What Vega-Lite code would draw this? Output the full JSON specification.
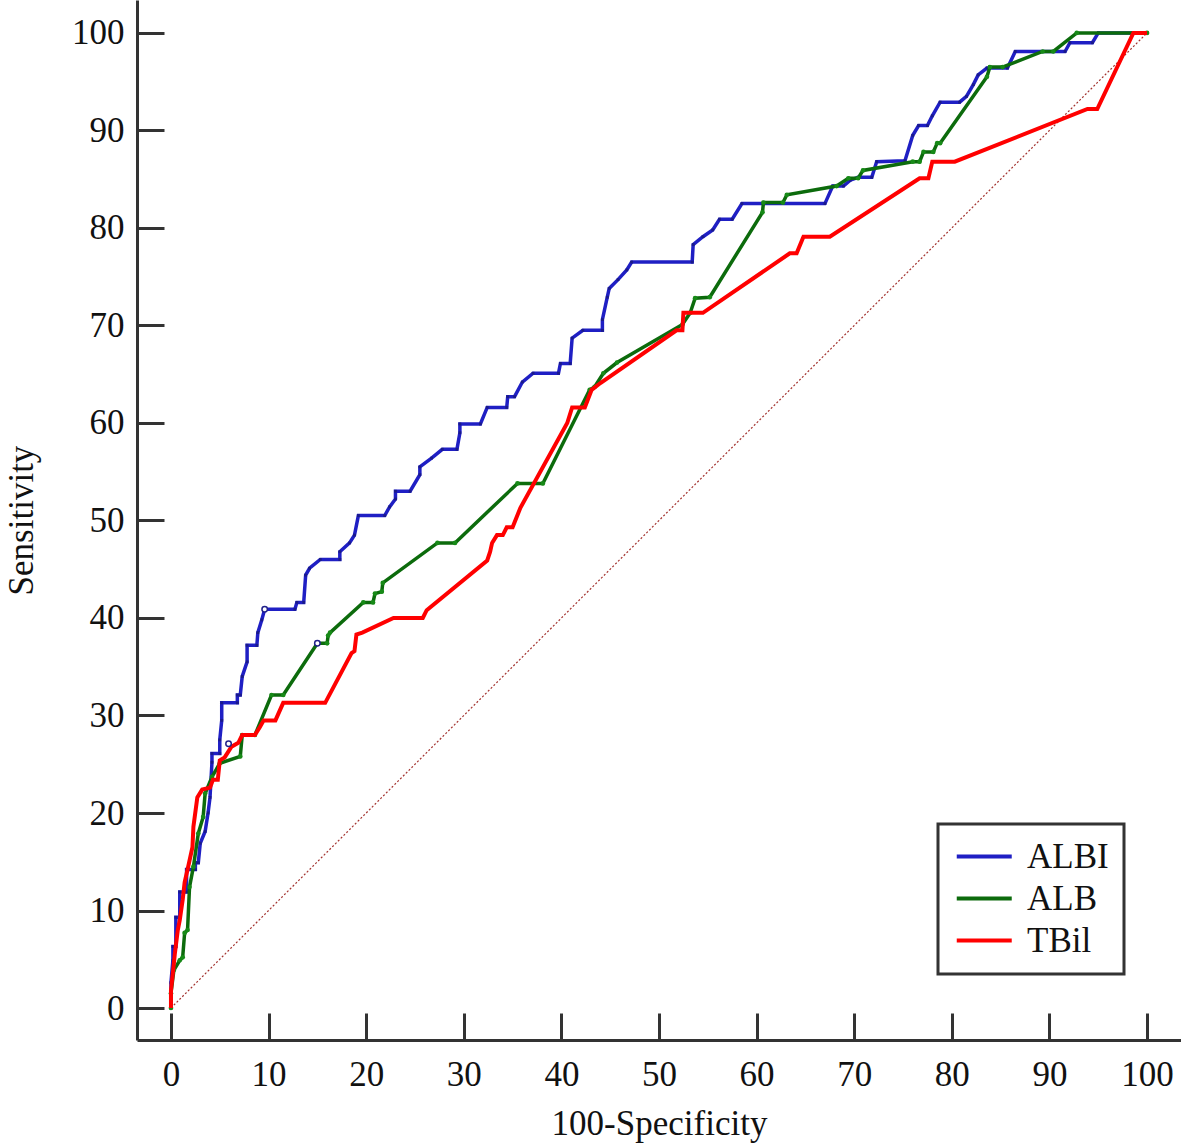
{
  "$schema": "https://vega.github.io/schema/vega-lite/v6.json",
  "width": 1044,
  "height": 1040,
  "autosize": {"type": "none"},
  "padding": {"left": 137, "top": 0, "right": 0, "bottom": 103},
  "background": "white",
  "config": {
    "view": {"stroke": null},
    "axis": {
      "grid": false,
      "domainColor": "#333333",
      "domainWidth": 3,
      "tickColor": "#333333",
      "tickWidth": 3,
      "tickSize": -27,
      "labelFont": "Liberation Serif",
      "labelFontSize": 35,
      "labelColor": "#111111",
      "titleFont": "Liberation Serif",
      "titleFontSize": 35,
      "titleFontWeight": "normal",
      "titleColor": "#111111"
    },
    "legend": {
      "labelFont": "Liberation Serif",
      "labelFontSize": 35,
      "labelColor": "#111111",
      "strokeWidth": 3
    }
  },
  "datasets": {
    "roc": [
      {"series":"ALBI","x":0,"y":0},{"series":"ALBI","x":0,"y":2.6},{"series":"ALBI","x":0.2,"y":4.9},{"series":"ALBI","x":0.2,"y":6.3},{"series":"ALBI","x":0.5,"y":6.3},{"series":"ALBI","x":0.5,"y":9.3},{"series":"ALBI","x":0.9,"y":9.3},{"series":"ALBI","x":0.9,"y":11.9},{"series":"ALBI","x":1.6,"y":11.9},{"series":"ALBI","x":1.6,"y":14.2},{"series":"ALBI","x":2.5,"y":14.2},{"series":"ALBI","x":2.5,"y":14.9},{"series":"ALBI","x":2.8,"y":14.9},{"series":"ALBI","x":3.0,"y":16.9},{"series":"ALBI","x":3.5,"y":18.1},{"series":"ALBI","x":3.8,"y":20.0},{"series":"ALBI","x":4.0,"y":21.6},{"series":"ALBI","x":4.2,"y":25.2},{"series":"ALBI","x":4.2,"y":26.1},{"series":"ALBI","x":5.0,"y":26.1},{"series":"ALBI","x":5.0,"y":27.5},{"series":"ALBI","x":5.2,"y":29.5},{"series":"ALBI","x":5.2,"y":31.3},{"series":"ALBI","x":6.8,"y":31.3},{"series":"ALBI","x":6.8,"y":32.1},{"series":"ALBI","x":7.1,"y":32.1},{"series":"ALBI","x":7.3,"y":34.0},{"series":"ALBI","x":7.8,"y":35.5},{"series":"ALBI","x":7.8,"y":37.2},{"series":"ALBI","x":8.8,"y":37.2},{"series":"ALBI","x":8.9,"y":38.5},{"series":"ALBI","x":9.3,"y":39.8},{"series":"ALBI","x":9.6,"y":40.9},{"series":"ALBI","x":12.7,"y":40.9},{"series":"ALBI","x":12.9,"y":41.6},{"series":"ALBI","x":13.6,"y":41.6},{"series":"ALBI","x":13.8,"y":44.4},{"series":"ALBI","x":14.2,"y":45.1},{"series":"ALBI","x":15.3,"y":46.0},{"series":"ALBI","x":17.3,"y":46.0},{"series":"ALBI","x":17.3,"y":46.8},{"series":"ALBI","x":18.3,"y":47.7},{"series":"ALBI","x":18.8,"y":48.5},{"series":"ALBI","x":19.2,"y":50.5},{"series":"ALBI","x":21.9,"y":50.5},{"series":"ALBI","x":22.4,"y":51.4},{"series":"ALBI","x":23.0,"y":52.2},{"series":"ALBI","x":23.0,"y":53.0},{"series":"ALBI","x":24.5,"y":53.0},{"series":"ALBI","x":25.5,"y":54.7},{"series":"ALBI","x":25.5,"y":55.5},{"series":"ALBI","x":26.7,"y":56.4},{"series":"ALBI","x":27.8,"y":57.3},{"series":"ALBI","x":29.3,"y":57.3},{"series":"ALBI","x":29.6,"y":59.0},{"series":"ALBI","x":29.6,"y":59.9},{"series":"ALBI","x":31.7,"y":59.9},{"series":"ALBI","x":32.4,"y":61.6},{"series":"ALBI","x":34.4,"y":61.6},{"series":"ALBI","x":34.5,"y":62.7},{"series":"ALBI","x":35.2,"y":62.7},{"series":"ALBI","x":36.0,"y":64.2},{"series":"ALBI","x":37.1,"y":65.1},{"series":"ALBI","x":39.7,"y":65.1},{"series":"ALBI","x":39.9,"y":66.1},{"series":"ALBI","x":40.9,"y":66.1},{"series":"ALBI","x":41.1,"y":68.7},{"series":"ALBI","x":42.2,"y":69.5},{"series":"ALBI","x":44.2,"y":69.5},{"series":"ALBI","x":44.2,"y":70.6},{"series":"ALBI","x":44.7,"y":72.9},{"series":"ALBI","x":44.9,"y":73.8},{"series":"ALBI","x":45.8,"y":74.7},{"series":"ALBI","x":46.7,"y":75.7},{"series":"ALBI","x":47.2,"y":76.5},{"series":"ALBI","x":53.4,"y":76.5},{"series":"ALBI","x":53.5,"y":78.3},{"series":"ALBI","x":54.5,"y":79.1},{"series":"ALBI","x":55.5,"y":79.8},{"series":"ALBI","x":56.2,"y":80.9},{"series":"ALBI","x":57.5,"y":80.9},{"series":"ALBI","x":58.5,"y":82.5},{"series":"ALBI","x":67.0,"y":82.5},{"series":"ALBI","x":67.8,"y":84.3},{"series":"ALBI","x":68.9,"y":84.3},{"series":"ALBI","x":69.6,"y":84.9},{"series":"ALBI","x":70.4,"y":85.2},{"series":"ALBI","x":71.8,"y":85.2},{"series":"ALBI","x":72.3,"y":86.8},{"series":"ALBI","x":75.2,"y":86.9},{"series":"ALBI","x":76.0,"y":89.5},{"series":"ALBI","x":76.6,"y":90.5},{"series":"ALBI","x":77.5,"y":90.5},{"series":"ALBI","x":78.0,"y":91.5},{"series":"ALBI","x":78.8,"y":92.9},{"series":"ALBI","x":80.8,"y":92.9},{"series":"ALBI","x":81.5,"y":93.5},{"series":"ALBI","x":82.2,"y":94.7},{"series":"ALBI","x":82.7,"y":95.7},{"series":"ALBI","x":83.6,"y":96.4},{"series":"ALBI","x":85.7,"y":96.4},{"series":"ALBI","x":86.5,"y":98.1},{"series":"ALBI","x":91.6,"y":98.1},{"series":"ALBI","x":92.1,"y":99.0},{"series":"ALBI","x":94.4,"y":99.0},{"series":"ALBI","x":95.0,"y":100},{"series":"ALBI","x":100,"y":100},
      {"series":"ALB","x":0,"y":0},{"series":"ALB","x":0,"y":1.5},{"series":"ALB","x":0.3,"y":3.9},{"series":"ALB","x":0.9,"y":4.9},{"series":"ALB","x":1.2,"y":5.2},{"series":"ALB","x":1.4,"y":7.7},{"series":"ALB","x":1.7,"y":8.0},{"series":"ALB","x":1.9,"y":12.4},{"series":"ALB","x":2.3,"y":14.5},{"series":"ALB","x":2.8,"y":17.9},{"series":"ALB","x":3.3,"y":19.6},{"series":"ALB","x":3.5,"y":22.0},{"series":"ALB","x":4.2,"y":23.7},{"series":"ALB","x":5.0,"y":25.1},{"series":"ALB","x":7.1,"y":25.8},{"series":"ALB","x":7.3,"y":28.0},{"series":"ALB","x":8.6,"y":28.0},{"series":"ALB","x":10.3,"y":32.1},{"series":"ALB","x":11.5,"y":32.1},{"series":"ALB","x":15.0,"y":37.4},{"series":"ALB","x":16.0,"y":37.4},{"series":"ALB","x":16.1,"y":38.2},{"series":"ALB","x":16.3,"y":38.5},{"series":"ALB","x":19.7,"y":41.6},{"series":"ALB","x":20.7,"y":41.6},{"series":"ALB","x":20.9,"y":42.5},{"series":"ALB","x":21.6,"y":42.7},{"series":"ALB","x":21.7,"y":43.6},{"series":"ALB","x":27.3,"y":47.7},{"series":"ALB","x":29.1,"y":47.7},{"series":"ALB","x":35.5,"y":53.8},{"series":"ALB","x":38.1,"y":53.8},{"series":"ALB","x":42.9,"y":63.4},{"series":"ALB","x":43.4,"y":63.7},{"series":"ALB","x":44.3,"y":65.1},{"series":"ALB","x":45.7,"y":66.2},{"series":"ALB","x":52.4,"y":70.1},{"series":"ALB","x":53.2,"y":71.3},{"series":"ALB","x":53.7,"y":72.8},{"series":"ALB","x":55.2,"y":72.9},{"series":"ALB","x":60.6,"y":81.6},{"series":"ALB","x":60.7,"y":82.6},{"series":"ALB","x":62.7,"y":82.6},{"series":"ALB","x":63.1,"y":83.4},{"series":"ALB","x":68.2,"y":84.3},{"series":"ALB","x":69.4,"y":85.1},{"series":"ALB","x":70.4,"y":85.1},{"series":"ALB","x":70.9,"y":85.9},{"series":"ALB","x":76.0,"y":86.8},{"series":"ALB","x":76.7,"y":86.8},{"series":"ALB","x":77.1,"y":87.8},{"series":"ALB","x":78.1,"y":87.8},{"series":"ALB","x":78.5,"y":88.7},{"series":"ALB","x":78.8,"y":88.7},{"series":"ALB","x":83.6,"y":95.5},{"series":"ALB","x":83.9,"y":96.5},{"series":"ALB","x":85.2,"y":96.5},{"series":"ALB","x":89.3,"y":98.1},{"series":"ALB","x":90.4,"y":98.1},{"series":"ALB","x":92.8,"y":100},{"series":"ALB","x":100,"y":100},
      {"series":"TBil","x":0,"y":0},{"series":"TBil","x":0,"y":1.8},{"series":"TBil","x":0.3,"y":4.6},{"series":"TBil","x":0.4,"y":5.6},{"series":"TBil","x":0.7,"y":8.0},{"series":"TBil","x":0.9,"y":9.0},{"series":"TBil","x":1.2,"y":11.1},{"series":"TBil","x":1.4,"y":12.9},{"series":"TBil","x":1.7,"y":14.2},{"series":"TBil","x":2.2,"y":16.5},{"series":"TBil","x":2.3,"y":18.6},{"series":"TBil","x":2.7,"y":21.6},{"series":"TBil","x":3.2,"y":22.4},{"series":"TBil","x":4.0,"y":22.6},{"series":"TBil","x":4.3,"y":23.4},{"series":"TBil","x":4.8,"y":23.4},{"series":"TBil","x":5.0,"y":25.4},{"series":"TBil","x":5.5,"y":25.7},{"series":"TBil","x":6.2,"y":26.8},{"series":"TBil","x":6.9,"y":27.2},{"series":"TBil","x":7.3,"y":28.0},{"series":"TBil","x":8.6,"y":28.0},{"series":"TBil","x":9.1,"y":28.8},{"series":"TBil","x":9.5,"y":29.5},{"series":"TBil","x":10.7,"y":29.5},{"series":"TBil","x":11.5,"y":31.3},{"series":"TBil","x":15.8,"y":31.3},{"series":"TBil","x":18.5,"y":36.4},{"series":"TBil","x":18.8,"y":36.6},{"series":"TBil","x":19.0,"y":38.3},{"series":"TBil","x":19.6,"y":38.5},{"series":"TBil","x":22.8,"y":40.0},{"series":"TBil","x":25.8,"y":40.0},{"series":"TBil","x":26.2,"y":40.8},{"series":"TBil","x":32.4,"y":45.9},{"series":"TBil","x":32.7,"y":46.8},{"series":"TBil","x":32.9,"y":47.7},{"series":"TBil","x":33.4,"y":48.5},{"series":"TBil","x":34.0,"y":48.5},{"series":"TBil","x":34.4,"y":49.3},{"series":"TBil","x":35.0,"y":49.3},{"series":"TBil","x":35.8,"y":51.3},{"series":"TBil","x":40.6,"y":60.0},{"series":"TBil","x":41.1,"y":61.6},{"series":"TBil","x":42.4,"y":61.6},{"series":"TBil","x":43.1,"y":63.4},{"series":"TBil","x":44.0,"y":64.1},{"series":"TBil","x":51.8,"y":69.5},{"series":"TBil","x":52.4,"y":69.5},{"series":"TBil","x":52.5,"y":71.3},{"series":"TBil","x":54.5,"y":71.3},{"series":"TBil","x":63.4,"y":77.4},{"series":"TBil","x":64.1,"y":77.4},{"series":"TBil","x":64.8,"y":79.1},{"series":"TBil","x":67.5,"y":79.1},{"series":"TBil","x":76.7,"y":85.1},{"series":"TBil","x":77.6,"y":85.1},{"series":"TBil","x":78.0,"y":86.8},{"series":"TBil","x":80.3,"y":86.8},{"series":"TBil","x":93.9,"y":92.2},{"series":"TBil","x":94.9,"y":92.2},{"series":"TBil","x":98.6,"y":100},{"series":"TBil","x":100,"y":100}
    ],
    "diag": [{"x":0,"y":0},{"x":100,"y":100}],
    "crit": [{"series":"ALBI","x":9.6,"y":40.9},{"series":"TBil","x":5.9,"y":27.1},{"series":"ALB","x":15.0,"y":37.4}]
  },
  "layer": [
    {
      "data": {"name": "diag"},
      "mark": {"type": "line", "color": "#a3322e", "strokeWidth": 1.2, "strokeDash": [2, 2]},
      "encoding": {
        "x": {"field": "x", "type": "quantitative", "scale": {"domain": [-3.48, 103.48], "nice": false, "zero": false},
              "axis": {"values": [0,10,20,30,40,50,60,70,80,90,100], "title": "100-Specificity", "labelPadding": 44, "titlePadding": 14}},
        "y": {"field": "y", "type": "quantitative", "scale": {"domain": [-3.28, 103.38], "nice": false, "zero": false},
              "axis": {"values": [0,10,20,30,40,50,60,70,80,90,100], "title": "Sensitivity", "labelPadding": 40, "titlePadding": 32}}
      }
    },
    {
      "data": {"name": "roc"},
      "transform": [{"filter": "datum.series === 'ALBI'"}],
      "mark": {"type": "line", "strokeWidth": 3.5, "strokeJoin": "miter"},
      "encoding": {
        "x": {"field": "x", "type": "quantitative"},
        "y": {"field": "y", "type": "quantitative"},
        "order": [{"field": "x"}, {"field": "y"}],
        "color": {"field": "series", "type": "nominal",
          "scale": {"domain": ["ALBI", "ALB", "TBil"], "range": ["#1f1fc4", "#0c6b0c", "#ff0000"]},
          "legend": {"title": "\u2003", "titleOrient": "right", "titleFontSize": 22, "titlePadding": 0,
                     "orient": "none", "legendX": 801, "legendY": 824,
                     "symbolType": "M-1,0H3", "symbolSize": 756, "symbolStrokeWidth": 4,
                     "strokeColor": "#333333", "padding": 15, "labelOffset": 39, "rowPadding": 6}}
      }
    },
    {
      "data": {"name": "roc"},
      "transform": [{"filter": "datum.series === 'ALBI'"}],
      "mark": {"type": "point", "filled": true, "shape": "square", "size": 8, "color": "#1a1a8a", "opacity": 1},
      "encoding": {
        "x": {"field": "x", "type": "quantitative"},
        "y": {"field": "y", "type": "quantitative"}
      }
    },
    {
      "data": {"name": "roc"},
      "transform": [{"filter": "datum.series === 'ALB'"}],
      "mark": {"type": "line", "strokeWidth": 3.5},
      "encoding": {
        "x": {"field": "x", "type": "quantitative"},
        "y": {"field": "y", "type": "quantitative"},
        "order": [{"field": "x"}, {"field": "y"}],
        "color": {"field": "series", "type": "nominal"}
      }
    },
    {
      "data": {"name": "roc"},
      "transform": [{"filter": "datum.series === 'ALB'"}],
      "mark": {"type": "point", "filled": true, "size": 22, "color": "#178a17", "opacity": 1},
      "encoding": {
        "x": {"field": "x", "type": "quantitative"},
        "y": {"field": "y", "type": "quantitative"}
      }
    },
    {
      "data": {"name": "roc"},
      "transform": [{"filter": "datum.series === 'TBil'"}],
      "mark": {"type": "line", "strokeWidth": 4},
      "encoding": {
        "x": {"field": "x", "type": "quantitative"},
        "y": {"field": "y", "type": "quantitative"},
        "order": [{"field": "x"}, {"field": "y"}],
        "color": {"field": "series", "type": "nominal"}
      }
    },
    {
      "data": {"name": "crit"},
      "mark": {"type": "point", "filled": true, "size": 30, "fill": "white", "stroke": "#22228a", "strokeWidth": 1.5, "opacity": 1},
      "encoding": {
        "x": {"field": "x", "type": "quantitative"},
        "y": {"field": "y", "type": "quantitative"}
      }
    }
  ]
}
